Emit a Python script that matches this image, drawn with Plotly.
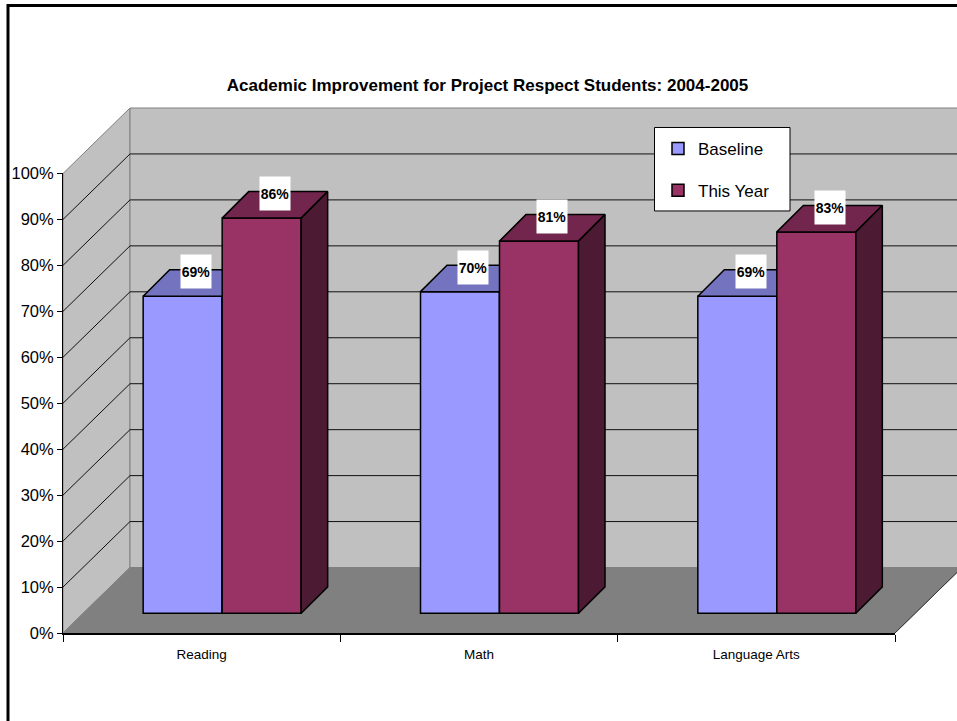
import plotly.graph_objects as go

# --- data ---
categories = ["Reading", "Math", "Language Arts"]
baseline = [69, 70, 69]
this_year = [86, 81, 83]
y_ticks = [0, 10, 20, 30, 40, 50, 60, 70, 80, 90, 100]
y_labels = ["0%", "10%", "20%", "30%", "40%", "50%", "60%", "70%", "80%", "90%", "100%"]
title_text = "Academic Improvement for Project Respect Students: 2004-2005"

# --- geometry (pixels, converted to axis units) ---
W, H = 957, 721
L, R, T, B = 63, 895, 173, 632.7     # front plane of the chart
TOPW = 106.5                         # top of the plot area
PX = (R - L) / 3                     # px per category
PY = (B - T) / 100                   # px per percent
wall_dx, wall_dy = 67 / PX, 65.5 / PY
front_dx, front_dy = 20.5 / PX, 19.7 / PY
depth_dx, depth_dy = 26.5 / PX, 26.5 / PY
label_dy = 24.5 / PY
bar_w = 79 / PX
centers = [i + 0.5 for i in range(len(categories))]
FONT = "Liberation Sans"

fig = go.Figure()


def poly(xs, ys, fill, line="black", lw=1.5, xa="x", ya="y", group=None):
    fig.add_trace(go.Scatter(x=xs, y=ys, mode="lines", fill="toself", fillcolor=fill,
                             line=dict(color=line, width=lw), xaxis=xa, yaxis=ya,
                             showlegend=False, hoverinfo="skip", cliponaxis=False,
                             legendgroup=group))


n = len(categories)
top = y_ticks[-1]
# side wall, back wall, floor (full-canvas layer underneath everything)
poly([0, wall_dx, wall_dx, 0, 0], [0, wall_dy, top + wall_dy, top, 0], "#C0C0C0", "#808080", 1)
poly([wall_dx, n + wall_dx, n + wall_dx, wall_dx, wall_dx],
     [wall_dy, wall_dy, top + wall_dy, top + wall_dy, wall_dy], "#C0C0C0", "#808080", 1)
poly([0, n, n + wall_dx, wall_dx, 0], [0, 0, wall_dy, wall_dy, 0], "#808080", "#808080", 1)

# gridlines running along side wall and back wall
gx, gy = [], []
for t in y_ticks[1:-1]:
    gx += [0, wall_dx, n + wall_dx, None]
    gy += [t, t + wall_dy, t + wall_dy, None]
fig.add_trace(go.Scatter(x=gx, y=gy, mode="lines", line=dict(color="#101010", width=1),
                         showlegend=False, hoverinfo="skip", cliponaxis=False))
# right edge of floor
fig.add_trace(go.Scatter(x=[n, n + wall_dx], y=[0, wall_dy], mode="lines",
                         line=dict(color="#303030", width=1),
                         showlegend=False, hoverinfo="skip", cliponaxis=False))


def bars(name, values, color, top_col, side_col, left, xa, ya, group):
    off = left + front_dx
    fig.add_trace(go.Bar(x=centers, y=values, base=front_dy, width=bar_w, offset=off, name=name,
                         marker=dict(color=color, line=dict(color="black", width=1.5)),
                         xaxis=xa, yaxis=ya, legendgroup=group))
    for c, v in zip(centers, values):
        x0, x1 = c + off, c + off + bar_w
        y0, y1 = front_dy, front_dy + v
        poly([x0, x1, x1 + depth_dx, x0 + depth_dx, x0],
             [y1, y1, y1 + depth_dy, y1 + depth_dy, y1], top_col, xa=xa, ya=ya, group=group)
        poly([x1, x1 + depth_dx, x1 + depth_dx, x1, x1],
             [y0, y0 + depth_dy, y1 + depth_dy, y1, y0], side_col, xa=xa, ya=ya, group=group)


bars("Baseline", baseline, "#9999FF", "#7373BF", "#4D4D80", -bar_w, "x2", "y2", "a")
bars("This Year", this_year, "#993366", "#73264D", "#4D1A33", 0, "x3", "y3", "b")

# data labels
annotations = []
for vals, left in ((baseline, -bar_w), (this_year, 0)):
    for c, v in zip(centers, vals):
        annotations.append(dict(
            x=c + left + front_dx + bar_w / 2 + depth_dx / 2,
            y=v + front_dy + label_dy, xref="x2", yref="y2",
            text=f"<b>{v}%</b>", showarrow=False, bgcolor="white", width=30, height=33,
            font=dict(family=FONT, size=14, color="black"), borderpad=0))

plot_w, plot_h = W - L, B - TOPW
pxx = lambda p: (p - L) / plot_w
pxy = lambda p: (B - p) / plot_h
shapes = [
    # legend box
    dict(type="rect", xref="paper", yref="paper", layer="above",
         x0=pxx(654.5), x1=pxx(790), y0=pxy(127), y1=pxy(210.5),
         fillcolor="white", line=dict(color="black", width=1)),
    # outer frame, running off the canvas on the right and at the bottom
    dict(type="rect", xref="paper", yref="paper", layer="above",
         x0=pxx(8), x1=pxx(W + 20), y0=pxy(H + 20), y1=pxy(5),
         line=dict(color="black", width=3)),
]

dom_x = [0, (R - L) / plot_w]
dom_y = [0, (B - T) / plot_h]
hx = dict(range=[0, n], visible=False, domain=dom_x)
hy = dict(range=[0, top], visible=False, domain=dom_y)
fig.update_layout(
    width=W, height=H, margin=dict(l=L, r=0, t=TOPW, b=H - B, autoexpand=False),
    paper_bgcolor="white", plot_bgcolor="rgba(0,0,0,0)",
    font=dict(family=FONT, color="black"),
    barmode="overlay",
    title=dict(text=f"<b>{title_text}</b>", x=487.5 / W, xref="container",
               xanchor="center", y=1 - 85 / H, yanchor="middle",
               font=dict(family=FONT, size=17, color="black")),
    # wall layer: same units as the front axes, spanning the whole plot area
    xaxis=dict(range=[0, plot_w / PX], domain=[0, 1], visible=False),
    yaxis=dict(range=[0, plot_h / PY], domain=[0, 1], visible=False),
    # visible axes
    xaxis2=dict(range=[0, n], domain=dom_x, anchor="y2", tickmode="array", tickvals=centers,
                ticktext=categories, ticks="", showgrid=False, zeroline=False, showline=True,
                linecolor="black", linewidth=1.5, tickfont=dict(size=13.5), ticklabelstandoff=8,
                minor=dict(tickmode="array", tickvals=list(range(n + 1)), ticks="outside",
                           ticklen=7, tickcolor="black", tickwidth=1, showgrid=False)),
    yaxis2=dict(range=[0, top], domain=dom_y, anchor="x2", tickmode="array", tickvals=y_ticks,
                ticktext=y_labels, ticks="outside", ticklen=5, tickcolor="black", tickwidth=1,
                showgrid=False, zeroline=False, showline=True, linecolor="black", linewidth=1,
                tickfont=dict(size=16.5)),
    xaxis3=dict(hx, anchor="y3"), yaxis3=dict(hy, anchor="x3"),
    legend=dict(x=pxx(658), y=pxy(130.5), xanchor="left", yanchor="top", bgcolor="rgba(0,0,0,0)",
                borderwidth=0, font=dict(size=17, color="black"), traceorder="grouped",
                tracegroupgap=16.5, itemwidth=30, itemclick=False, itemdoubleclick=False),
    annotations=annotations, shapes=shapes,
)

fig.write_html("out.html", post_script="document.body.style.margin='0';",
               config={"displayModeBar": False})
